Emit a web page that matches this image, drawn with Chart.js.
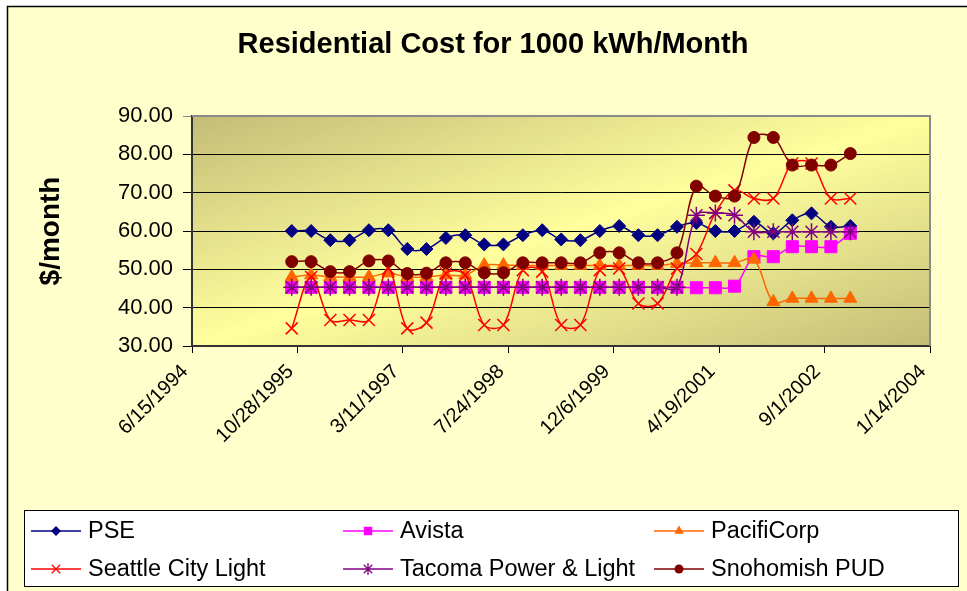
<!DOCTYPE html>
<html><head><meta charset="utf-8">
<script src="https://cdn.jsdelivr.net/npm/chart.js@4.4.0/dist/chart.umd.min.js"></script>
<style>html,body{margin:0;padding:0;background:#fff;overflow:hidden}#wrap{width:967px;height:591px;position:relative}</style>
</head><body><div id="wrap"><canvas id="c" width="967" height="591"></canvas></div>
<script>
// ---- data ----
const quarterDates = ['1995-10-01','1996-01-01','1996-04-01','1996-07-01','1996-10-01','1997-01-01','1997-04-01','1997-07-01','1997-10-01','1998-01-01','1998-04-01','1998-07-01','1998-10-01','1999-01-01','1999-04-01','1999-07-01','1999-10-01','2000-01-01','2000-04-01','2000-07-01','2000-10-01','2001-01-01','2001-04-01','2001-07-01','2001-10-01','2002-01-01','2002-04-01','2002-07-01','2002-10-01','2003-01-01'];
const tickDates = ['1994-06-15','1995-10-28','1997-03-11','1998-07-24','1999-12-06','2001-04-19','2002-09-01','2004-01-14'];
const tickLabels = ['6/15/1994','10/28/1995','3/11/1997','7/24/1998','12/6/1999','4/19/2001','9/1/2002','1/14/2004'];
const yTicks = [30, 40, 50, 60, 70, 80, 90];
const seriesNames = ['PSE','Avista','PacifiCorp','Seattle City Light','Tacoma Power & Light','Snohomish PUD'];
const pse = [60.0,60.0,57.6,57.6,60.2,60.2,55.3,55.3,58.2,58.9,56.5,56.5,58.9,60.2,57.8,57.6,60.0,61.3,58.9,58.9,61.1,62.1,60.0,60.0,62.4,59.4,62.8,64.6,61.1,61.3];
const avista = [45.3,45.3,45.3,45.3,45.3,45.3,45.3,45.3,45.3,45.3,45.3,45.3,45.3,45.3,45.3,45.3,45.3,45.3,45.3,45.3,45.3,45.2,45.2,45.6,53.3,53.3,55.9,55.9,55.9,59.4];
const pacifiCorp = [48.0,48.5,48.0,48.0,48.0,49.0,48.0,48.0,48.5,48.5,51.1,51.1,51.0,51.0,51.0,51.0,51.0,51.0,51.0,51.0,51.5,51.7,51.7,51.7,52.6,41.5,42.4,42.4,42.4,42.4];
const seattle = [34.6,48.0,36.8,36.8,36.8,50.2,34.6,36.1,48.9,48.5,35.5,35.5,49.8,49.4,35.5,35.5,49.8,50.2,41.1,41.1,50.2,54.0,64.7,70.6,68.5,68.5,77.6,77.6,68.5,68.5];
const tacoma = [45.3,45.3,45.3,45.3,45.3,45.3,45.3,45.3,45.3,45.3,45.3,45.3,45.3,45.3,45.3,45.3,45.3,45.3,45.3,45.3,45.3,64.1,64.7,64.1,59.8,59.8,59.8,59.8,59.8,59.8];
const snohomish = [52.0,52.0,49.4,49.4,52.2,52.2,48.9,49.0,51.7,51.7,49.1,49.1,51.7,51.7,51.7,51.7,54.3,54.3,51.7,51.7,54.3,71.7,69.1,69.1,84.4,84.4,77.2,77.2,77.2,80.2];

// ---- helpers ----
function dayNum(s){const p=s.split('-').map(Number);return Date.UTC(p[0],p[1]-1,p[2])/86400000;}
const base = dayNum(tickDates[0]);
const xs = quarterDates.map(d => dayNum(d) - base);
const tickPos = tickDates.map(d => dayNum(d) - base);
const FONT = "'Liberation Sans', Arial, sans-serif";

const styles = [
  {color:'#000080', point:'rectRot', r:6.5, lr:5},
  {color:'#FF00FF', point:'rect', r:8.5, lr:6},
  {color:'#FF6600', point:'triangle', r:7.5, lr:5.5},
  {color:'#FF0000', point:'crossRot', r:8.5, lr:6},
  {color:'#800080', point:'star', r:8.5, lr:6},
  {color:'#800000', point:'circle', r:6, lr:4.5}
];
const seriesValues = [pse, avista, pacifiCorp, seattle, tacoma, snohomish];

const datasets = seriesValues.map((vals, i) => ({
  label: seriesNames[i],
  data: vals.map((v, j) => ({x: xs[j], y: v})),
  borderColor: styles[i].color,
  backgroundColor: styles[i].color,
  borderWidth: 1.5,
  pointStyle: styles[i].point,
  pointRadius: styles[i].r,
  pointHoverRadius: styles[i].r,
  pointBackgroundColor: styles[i].color,
  pointBorderColor: styles[i].color,
  pointBorderWidth: (styles[i].point === 'crossRot' || styles[i].point === 'star') ? 1.5 : 1,
  tension: 0.35,
  fill: false,
  order: 6 - i
}));

function drawMarker(ctx, style, x, y, r, color){
  ctx.save();
  ctx.fillStyle = color; ctx.strokeStyle = color; ctx.lineWidth = 1.3;
  ctx.beginPath();
  if (style === 'rectRot'){ ctx.moveTo(x,y-r);ctx.lineTo(x+r,y);ctx.lineTo(x,y+r);ctx.lineTo(x-r,y);ctx.closePath();ctx.fill(); }
  else if (style === 'rect'){ const s=r*Math.SQRT1_2; ctx.rect(x-s,y-s,2*s,2*s); ctx.fill(); }
  else if (style === 'triangle'){ ctx.moveTo(x,y-r); ctx.lineTo(x+r*0.866,y+r*0.5); ctx.lineTo(x-r*0.866,y+r*0.5); ctx.closePath(); ctx.fill(); }
  else if (style === 'crossRot'){ const s=r*Math.SQRT1_2; ctx.moveTo(x-s,y-s);ctx.lineTo(x+s,y+s);ctx.moveTo(x+s,y-s);ctx.lineTo(x-s,y+s);ctx.stroke(); }
  else if (style === 'star'){ const s=r*Math.SQRT1_2; ctx.moveTo(x-s,y-s);ctx.lineTo(x+s,y+s);ctx.moveTo(x+s,y-s);ctx.lineTo(x-s,y+s);ctx.moveTo(x,y-r);ctx.lineTo(x,y+r);ctx.stroke(); }
  else { ctx.arc(x,y,r,0,Math.PI*2); ctx.fill(); }
  ctx.restore();
}

const decor = {
  id: 'decor',
  beforeDraw(chart){
    const ctx = chart.ctx, a = chart.chartArea;
    ctx.save();
    ctx.fillStyle = '#ffffff'; ctx.fillRect(0,0,chart.width,chart.height);
    ctx.fillStyle = '#FFFFCC'; ctx.fillRect(7,6,chart.width,chart.height);
    ctx.strokeStyle = '#000'; ctx.lineWidth = 1.5;
    ctx.beginPath(); ctx.moveTo(7.5, chart.height); ctx.lineTo(7.5, 6.5); ctx.lineTo(chart.width, 6.5); ctx.stroke();
    // plot gradient (band along the anti-diagonal)
    const w = a.right - a.left, h = a.bottom - a.top;
    const cx = (a.left + a.right)/2, cy = (a.top + a.bottom)/2;
    const n = Math.sqrt(w*w + h*h), d = w*h/n;
    const ux = h/n, uy = w/n;
    const g = ctx.createLinearGradient(cx - d*ux, cy - d*uy, cx + d*ux, cy + d*uy);
    g.addColorStop(0, '#C4BC76');
    g.addColorStop(0.5, '#FFFF9E');
    g.addColorStop(1, '#C4BC76');
    ctx.fillStyle = g;
    ctx.fillRect(a.left, a.top, w, h);
    ctx.restore();
  },
  beforeDatasetsDraw(chart){
    const ctx = chart.ctx, a = chart.chartArea;
    ctx.save();
    ctx.strokeStyle = '#8a8a8a'; ctx.lineWidth = 2;
    ctx.beginPath(); ctx.moveTo(a.left, a.top); ctx.lineTo(a.right, a.top); ctx.lineTo(a.right, a.bottom); ctx.stroke();
    ctx.restore();
  },
  afterDraw(chart){
    const ctx = chart.ctx, a = chart.chartArea;
    ctx.save();
    // title
    ctx.fillStyle = '#000';
    ctx.font = 'bold 29px ' + FONT;
    ctx.textAlign = 'center'; ctx.textBaseline = 'middle';
    ctx.fillText('Residential Cost for 1000 kWh/Month', 493, 45);
    // y title
    ctx.save();
    ctx.translate(51, 231); ctx.rotate(-Math.PI/2);
    ctx.font = 'bold 28px ' + FONT;
    ctx.fillText('$/month', 0, 0);
    ctx.restore();
    // legend
    ctx.fillStyle = '#ffffff';
    ctx.fillRect(24, 510, 934, 76);
    ctx.strokeStyle = '#000'; ctx.lineWidth = 1;
    ctx.strokeRect(24.5, 510.5, 934, 76);
    const cols = [31, 343, 654], rows = [531, 569];
    ctx.font = '23.5px ' + FONT; ctx.textAlign = 'left'; ctx.textBaseline = 'middle';
    for (let i = 0; i < 6; i++){
      const x = cols[i % 3], y = rows[Math.floor(i / 3)];
      ctx.strokeStyle = styles[i].color; ctx.lineWidth = 1.5;
      ctx.beginPath(); ctx.moveTo(x, y); ctx.lineTo(x + 50, y); ctx.stroke();
      drawMarker(ctx, styles[i].point, x + 25, y, styles[i].lr, styles[i].color);
      ctx.fillStyle = '#000';
      ctx.fillText(seriesNames[i], x + 57, y + 1);
    }
    ctx.restore();
  }
};

new Chart(document.getElementById('c'), {
  type: 'line',
  data: { datasets },
  plugins: [decor],
  options: {
    responsive: false,
    animation: false,
    devicePixelRatio: 1,
    layout: { padding: { top: 116, right: 37, left: 0, bottom: 0 } },
    plugins: { legend: { display: false }, title: { display: false }, tooltip: { enabled: false } },
    scales: {
      x: {
        type: 'linear',
        min: tickPos[0], max: tickPos[tickPos.length - 1],
        afterBuildTicks(scale){ scale.ticks = tickPos.map(v => ({ value: v })); },
        afterFit(scale){ scale.height = 245; },
        ticks: {
          autoSkip: false, minRotation: 45, maxRotation: 45, padding: 7, labelOffset: -7,
          color: '#000', font: { family: FONT, size: 20 },
          callback: (v, i) => tickLabels[i]
        },
        grid: { drawOnChartArea: false, drawTicks: true, tickLength: 7, color: '#000', lineWidth: 1 },
        border: { display: true, color: '#333', width: 2 }
      },
      y: {
        min: yTicks[0], max: yTicks[yTicks.length - 1],
        afterBuildTicks(scale){ scale.ticks = yTicks.map(v => ({ value: v })); },
        afterFit(scale){ scale.width = 192; },
        ticks: { padding: 10, color: '#000', font: { family: FONT, size: 22 }, callback: v => Number(v).toFixed(2) },
        grid: { color: ctx => (ctx.tick && ctx.tick.value === 90) ? '#8a8a8a' : '#000', lineWidth: 1, tickLength: 9, drawTicks: true },
        border: { display: true, color: '#333', width: 2 }
      }
    }
  }
});
</script>
</body></html>
